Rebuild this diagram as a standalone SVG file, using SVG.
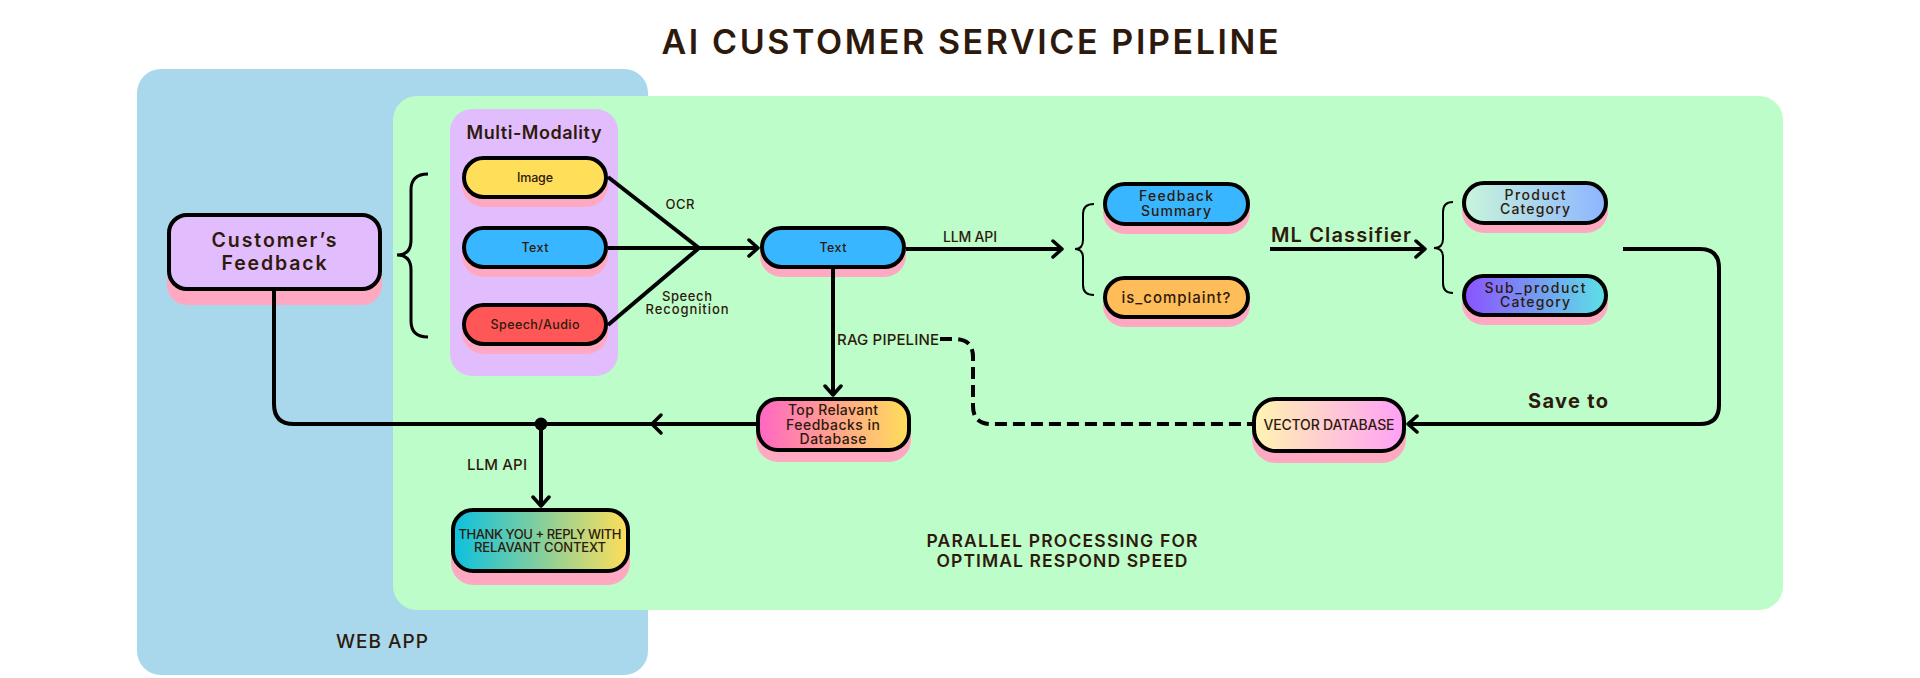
<svg xmlns="http://www.w3.org/2000/svg" width="1920" height="678" viewBox="0 0 1920 678">
<style>
text{font-family:Inter,"Liberation Sans",sans-serif;fill:#2e1a0c;text-anchor:middle}
.n{font-weight:500}
.b{font-weight:600}
.lab{font-weight:500}
.node{stroke:#000;stroke-width:4}
.sh{fill:#ffa8c2}
.ln{fill:none;stroke:#000;stroke-width:4}
.br{fill:none;stroke:#000}
</style>
<defs>
<marker id="arr" viewBox="-12 -10 14 20" refX="-2" refY="0" markerWidth="14" markerHeight="20" markerUnits="userSpaceOnUse" orient="auto">
<path d="M-9,-8 L0,0 L-9,8" fill="none" stroke="#000" stroke-width="3.5" stroke-linecap="round" stroke-linejoin="round"/>
</marker>
<linearGradient id="gTop"><stop offset="0" stop-color="#ff66c4"/><stop offset="1" stop-color="#ffde59"/></linearGradient>
<linearGradient id="gThank"><stop offset="0" stop-color="#0cc0df"/><stop offset="1" stop-color="#ffde59"/></linearGradient>
<linearGradient id="gVec"><stop offset="0" stop-color="#fff4b0"/><stop offset="1" stop-color="#ffa0f6"/></linearGradient>
<linearGradient id="gProd"><stop offset="0" stop-color="#c9f5dc"/><stop offset="1" stop-color="#8cb5ff"/></linearGradient>
<linearGradient id="gSub"><stop offset="0" stop-color="#8c52ff"/><stop offset="1" stop-color="#5ce1e6"/></linearGradient>
</defs>
<rect width="1920" height="678" fill="#ffffff"/>
<text x="970" y="54" font-size="34" class="b" textLength="617">AI CUSTOMER SERVICE PIPELINE</text>

<g id="web-app">
<rect x="137" y="69" width="511" height="606" rx="24" fill="#a9d7ec"/>
<text x="382" y="648" font-size="19" class="lab" textLength="92">WEB APP</text>
</g>
<g id="parallel-area">
<rect x="393" y="96" width="1390" height="514" rx="24" fill="#bdfdca"/>
<text x="1062" y="547" font-size="17.5" class="b" textLength="271">PARALLEL PROCESSING FOR</text>
<text x="1062" y="567" font-size="17.5" class="b" textLength="251">OPTIMAL RESPOND SPEED</text>
</g>
<g id="multi-modality">
<rect x="450" y="109" width="168" height="267" rx="22" fill="#e2bdfd"/>
<text x="534" y="139" font-size="18" class="b" textLength="135">Multi-Modality</text>
</g>

<g id="customer-feedback">
<rect class="sh" x="167" y="227" width="215" height="78" rx="20"/>
<rect class="node" x="169" y="215" width="211" height="74" rx="18" fill="#e2bdfd"/>
<text x="274" y="247" font-size="19.5" class="b" textLength="125">Customer’s</text>
<text x="274" y="270" font-size="19.5" class="b" textLength="105">Feedback</text>
</g>

<g id="image">
<rect class="sh" x="462" y="164" width="146" height="43" rx="21.5"/>
<rect class="node" x="464" y="158" width="142" height="39" rx="19.5" fill="#ffde59"/>
<text x="535" y="182" font-size="12.5" class="n" textLength="36">Image</text>
</g>
<g id="text-input">
<rect class="sh" x="462" y="234" width="146" height="43" rx="21.5"/>
<rect class="node" x="464" y="228" width="142" height="39" rx="19.5" fill="#38b6ff"/>
<text x="535" y="252" font-size="12.5" class="n" textLength="27">Text</text>
</g>
<g id="speech-audio">
<rect class="sh" x="462" y="311" width="146" height="43" rx="21.5"/>
<rect class="node" x="464" y="305" width="142" height="39" rx="19.5" fill="#ff5757"/>
<text x="535" y="329" font-size="12.5" class="n" textLength="89">Speech/Audio</text>
</g>

<g id="text">
<rect class="sh" x="760" y="234" width="146" height="43" rx="21.5"/>
<rect class="node" x="762" y="228" width="142" height="39" rx="19.5" fill="#38b6ff"/>
<text x="833" y="252" font-size="12.5" class="n" textLength="27">Text</text>
</g>

<g id="feedback-summary">
<rect class="sh" x="1103" y="190" width="147" height="44" rx="22"/>
<rect class="node" x="1105" y="184" width="143" height="40" rx="20" fill="#38b6ff"/>
<text x="1176" y="201" font-size="14" class="n" textLength="74">Feedback</text>
<text x="1176" y="216" font-size="14" class="n" textLength="70">Summary</text>
</g>
<g id="is-complaint">
<rect class="sh" x="1103" y="284" width="147" height="43" rx="21.5"/>
<rect class="node" x="1105" y="278" width="143" height="39" rx="19.5" fill="#ffbd59"/>
<text x="1176" y="303" font-size="15" class="n" textLength="109">is_complaint?</text>
</g>

<g id="product-category">
<rect class="sh" x="1462" y="189" width="146" height="44" rx="22"/>
<rect class="node" x="1464" y="183" width="142" height="40" rx="20" fill="url(#gProd)"/>
<text x="1535" y="200" font-size="14" class="n" textLength="61">Product</text>
<text x="1535" y="214" font-size="14" class="n" textLength="70">Category</text>
</g>
<g id="sub-product-category">
<rect class="sh" x="1462" y="282" width="146" height="43" rx="21.5"/>
<rect class="node" x="1464" y="276" width="142" height="39" rx="19.5" fill="url(#gSub)"/>
<text x="1535" y="293" font-size="14" class="n" textLength="101">Sub_product</text>
<text x="1535" y="307" font-size="14" class="n" textLength="70">Category</text>
</g>

<g id="top-relevant">
<rect class="sh" x="756" y="407" width="155" height="55" rx="22"/>
<rect class="node" x="758" y="399" width="151" height="51" rx="20" fill="url(#gTop)"/>
<text x="833" y="415" font-size="14" class="n" textLength="90">Top Relavant</text>
<text x="833" y="429.5" font-size="14" class="n" textLength="94">Feedbacks in</text>
<text x="833" y="444" font-size="14" class="n" textLength="67">Database</text>
</g>

<g id="vector-database">
<rect class="sh" x="1252" y="407" width="154" height="56" rx="24"/>
<rect class="node" x="1254" y="399" width="150" height="52" rx="22" fill="url(#gVec)"/>
<text x="1329" y="430" font-size="14" class="n" textLength="131">VECTOR DATABASE</text>
</g>

<g id="reply">
<rect class="sh" x="451" y="520" width="179" height="65" rx="22"/>
<rect class="node" x="453" y="510" width="175" height="61" rx="20" fill="url(#gThank)"/>
<text x="540" y="539" font-size="13" class="n" textLength="163">THANK YOU + REPLY WITH</text>
<text x="540" y="552" font-size="13" class="n" textLength="132">RELAVANT CONTEXT</text>
</g>

<g id="connectors">
<path class="br" stroke-width="3" d="M428 174 Q411 174 411 190 V240 Q411 255 397 255 Q411 255 411 270 V321 Q411 337 428 337"/>
<path class="br" stroke-width="2" d="M1094 204 Q1083 204 1083 214 V240 Q1083 249 1075 249 Q1083 249 1083 258 V285 Q1083 295 1094 295"/>
<path class="br" stroke-width="2" d="M1453 202 Q1443 202 1443 212 V239 Q1443 248 1434 248 Q1443 248 1443 257 V283 Q1443 293 1453 293"/>
<path class="ln" d="M608 177 L699 248"/>
<path class="ln" d="M608 325 L699 248"/>
<path class="ln" d="M608 248 H756" marker-end="url(#arr)"/>
<text x="680" y="209" font-size="13" class="lab" textLength="29">OCR</text>
<text x="687" y="301" font-size="13" class="lab" textLength="50">Speech</text>
<text x="687" y="314" font-size="13" class="lab" textLength="83">Recognition</text>
<path class="ln" d="M906 249 H1060" marker-end="url(#arr)"/>
<text x="970" y="242" font-size="14" class="lab" textLength="54">LLM API</text>
<path class="ln" d="M1270 249 H1423" marker-end="url(#arr)"/>
<text x="1271" y="242" font-size="20" class="b" style="text-anchor:start" textLength="140">ML Classifier</text>
<path class="ln" d="M1623 249 H1700 Q1719 249 1719 268 V405 Q1719 424 1700 424 H1410" marker-end="url(#arr)"/>
<text x="1568" y="408" font-size="20" font-weight="700" textLength="80">Save to</text>
<path class="ln" stroke-dasharray="12 6" d="M940 339 H955 Q973 339 973 357 V406 Q973 424 991 424 H1252"/>
<text x="837" y="345" font-size="15" class="lab" style="text-anchor:start" textLength="102">RAG PIPELINE</text>
<path class="ln" d="M833 269 V393" marker-end="url(#arr)"/>
<path class="ln" d="M274 291 V404 Q274 424 294 424 H541"/>
<path class="ln" d="M756 424 H541"/>
<path d="M661 415 L652 424 L661 433" fill="none" stroke="#000" stroke-width="3.5" stroke-linecap="round" stroke-linejoin="round"/>
<circle cx="541" cy="424" r="6.5" fill="#000"/>
<path class="ln" d="M541 424 V504" marker-end="url(#arr)"/>
<text x="497" y="470" font-size="15" class="lab" textLength="60">LLM API</text>
</g>
</svg>
